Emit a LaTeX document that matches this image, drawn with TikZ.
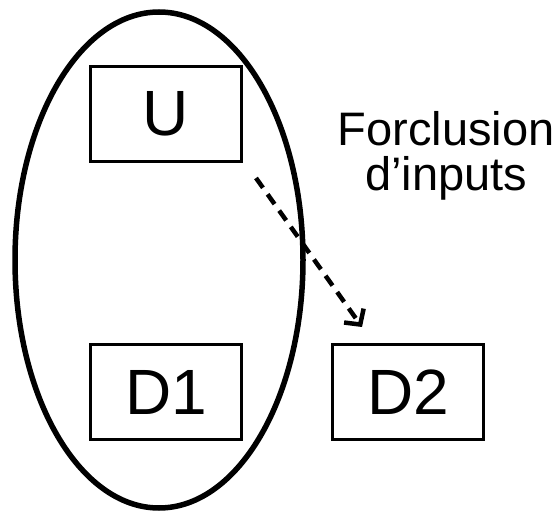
\documentclass[tikz,border=0pt]{standalone}
\usepackage{fontspec}
\setmainfont{Liberation Sans}
\usetikzlibrary{arrows.meta}
\tikzset{
  box/.style={draw, line width=3.5pt, minimum width=151pt, minimum height=95pt, inner sep=0pt,
    font=\fontsize{64}{64}\selectfont},
  lbl/.style={anchor=base, inner sep=0pt, font=\fontsize{47}{47}\selectfont},
  group/.style={line width=5.5pt},
  forclose/.style={dash pattern=on 12pt off 8pt, line width=4.5pt,
    -{Straight Barb[length=11pt,width=24pt]}}
}
\begin{document}
\begin{tikzpicture}[x=1pt,y=-1pt]
\useasboundingbox (0,0) rectangle (560,513);
\draw[group] (159,260) ellipse [x radius=144, y radius=248];
\node[box] (U) at (166,114) {U};
\node[box] (D1) at (166,392) {D1};
\node[box] (D2) at (408,392) {D2};
\node[lbl] (f1) at (446,146) {Forclusion};
\node[lbl] (f2) at (446,191) {d’inputs};
\coordinate (s) at (256,178);
\coordinate (t) at (362,327);
\draw[forclose] (s) -- (t);
\end{tikzpicture}
\end{document}
